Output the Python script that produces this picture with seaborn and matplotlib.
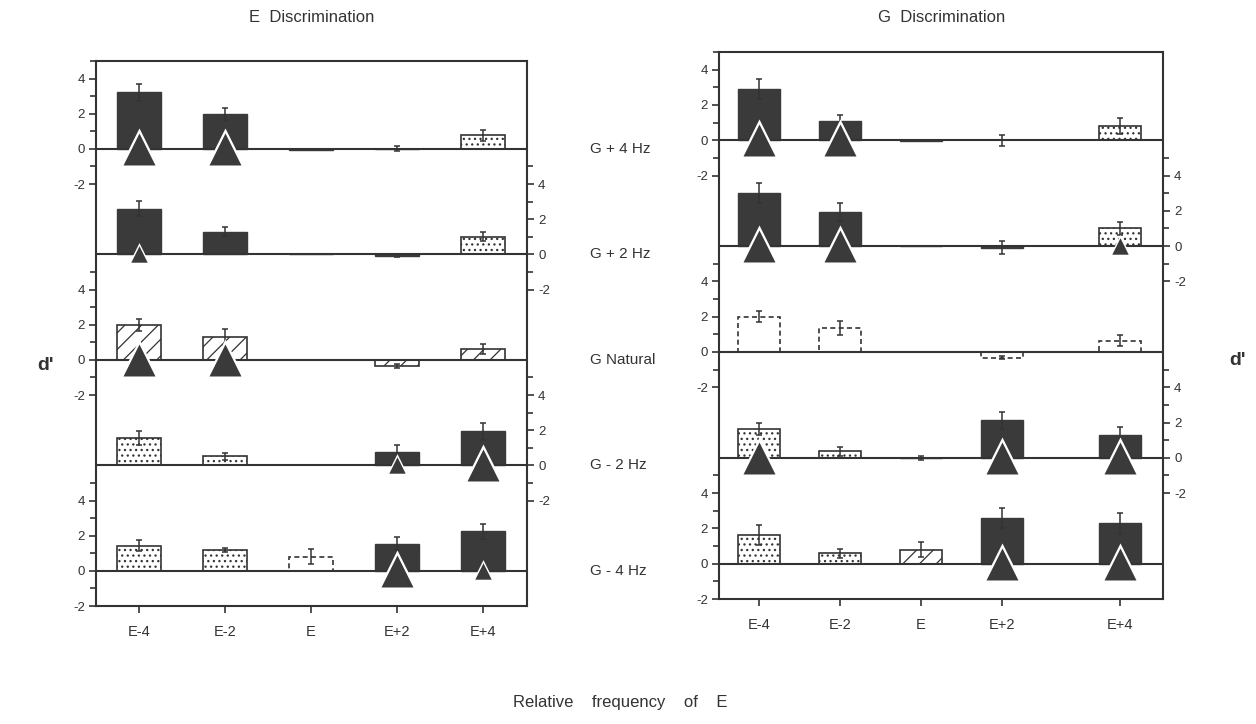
import numpy as np
import pandas as pd
import matplotlib.pyplot as plt
import seaborn as sns

# ---------------------------
# data
# ---------------------------
categories = ["E-4", "E-2", "E", "E+2", "E+4"]
conditions = ["G + 4 Hz", "G + 2 Hz", "G Natural", "G - 2 Hz", "G - 4 Hz"]

# E discrimination (left panel), one row per condition
e_dprime = [
    [3.23, 1.98, -0.05, 0.02, 0.77],
    [2.60, 1.30, 0.03, -0.08, 1.00],
    [1.98, 1.32, 0.00, -0.34, 0.60],
    [1.57, 0.51, 0.00, 0.75, 1.94],
    [1.43, 1.19, 0.81, 1.55, 2.25],
]
e_err = [
    [0.49, 0.32, 0.00, 0.15, 0.32],
    [0.42, 0.27, 0.00, 0.08, 0.26],
    [0.36, 0.45, 0.00, 0.10, 0.29],
    [0.41, 0.19, 0.00, 0.38, 0.48],
    [0.31, 0.13, 0.42, 0.35, 0.43],
]
e_fill = [
    ["solid", "solid", "solid", "solid", "dots"],
    ["solid", "solid", "solid", "solid", "dots"],
    ["hatch", "hatch", "none", "hatch", "hatch"],
    ["dots", "dots", "none", "solid", "solid"],
    ["dots", "dots", "dash", "solid", "solid"],
]
e_sig = [
    ["L", "L", "", "", ""],
    ["S", "", "", "", ""],
    ["L", "L", "", "", ""],
    ["", "", "", "S", "L"],
    ["", "", "", "L", "S"],
]

# G discrimination (right panel)
g_dprime = [
    [2.90, 1.10, -0.03, 0.00, 0.80],
    [3.00, 1.95, 0.03, -0.08, 1.00],
    [2.00, 1.35, 0.00, -0.32, 0.64],
    [1.65, 0.37, 0.00, 2.12, 1.27],
    [1.63, 0.58, 0.79, 2.57, 2.28],
]
g_err = [
    [0.56, 0.34, 0.00, 0.32, 0.45],
    [0.56, 0.52, 0.00, 0.35, 0.35],
    [0.30, 0.41, 0.00, 0.10, 0.30],
    [0.34, 0.25, 0.10, 0.50, 0.47],
    [0.56, 0.26, 0.43, 0.56, 0.60],
]
g_fill = [
    ["solid", "solid", "solid", "none", "dots"],
    ["solid", "solid", "solid", "solid", "dots"],
    ["dash", "dash", "none", "dash", "dash"],
    ["dots", "dots", "solid", "solid", "solid"],
    ["dots", "dots", "hatch", "solid", "solid"],
]
g_sig = [
    ["L", "L", "", "", ""],
    ["L", "L", "", "", "S"],
    ["", "", "", "", ""],
    ["L", "", "", "L", "L"],
    ["", "", "", "L", "L"],
]

# layout (pixels) -- the original G panel has uneven category spacing
W, H = 1256, 724
e_box = (96, 61, 527, 606)
g_box = (719, 52, 1163, 599)
e_xpos = [0, 1, 2, 3, 4]
g_xpos = [0, 1, 2, 3, 4.46]

INK = "#333333"
BAR = "#3a3a3a"

sns.set_theme(style="white")
plt.rcParams["font.family"] = ["Liberation Sans", "DejaVu Sans"]
plt.rcParams["hatch.linewidth"] = 0.9

fig = plt.figure(figsize=(W / 100, H / 100), dpi=100)
fig.patch.set_facecolor("white")


def px_axes(x0, y0, x1, y1):
    return fig.add_axes([x0 / W, 1 - y1 / H, (x1 - x0) / W, (y1 - y0) / H])


def style_bar(p, kind):
    if kind == "solid":
        p.set_facecolor(BAR)
        p.set_edgecolor(BAR)
        p.set_linewidth(1)
    elif kind == "dots":
        p.set_facecolor("white")
        p.set_edgecolor(INK)
        p.set_hatch("...")
        p.set_linewidth(1.2)
    elif kind == "hatch":
        p.set_facecolor("white")
        p.set_edgecolor(INK)
        p.set_hatch("//")
        p.set_linewidth(1.2)
    elif kind == "dash":
        p.set_facecolor("white")
        p.set_edgecolor(INK)
        p.set_linestyle((0, (3, 2)))
        p.set_linewidth(1.2)
    else:
        p.set_visible(False)


def draw_panel(box, xpos, xlim, bw, dprime, err, fill, sig):
    x0, y0, x1, y1 = box
    frame = px_axes(*box)
    frame.set_xlim(xlim)
    frame.set_ylim(0, 1)
    frame.set_xticks(xpos)
    frame.set_xticklabels(categories)
    frame.set_yticks([])
    for s in frame.spines.values():
        s.set_visible(True)
        s.set_color(INK)
        s.set_linewidth(1.5)
    frame.tick_params(axis="x", bottom=True, direction="out", length=5, width=1.2,
                      color=INK, labelcolor=INK, labelsize=10.5, pad=9)

    u = (y1 - y0) / 31
    for k in range(5):
        top = y0 + 6 * u * k
        ax = px_axes(x0, top, x1, top + 7 * u)
        ax.patch.set_alpha(0)
        df = pd.DataFrame({"pos": xpos, "dprime": dprime[k]})
        sns.barplot(data=df, x="pos", y="dprime", native_scale=True, width=bw,
                    color=BAR, saturation=1, errorbar=None, ax=ax)
        for p, kind in zip(ax.patches, fill[k]):
            style_bar(p, kind)

        ax.axhline(0, color=INK, lw=1.5, zorder=2)

        idx = [i for i in range(5) if err[k][i] > 0]
        ax.errorbar([xpos[i] for i in idx], [dprime[k][i] for i in idx],
                    yerr=[err[k][i] for i in idx], fmt="none", ecolor=INK,
                    elinewidth=1.1, capsize=2.5, capthick=1.1, zorder=3)

        # significance triangles: a white halo under a dark triangle
        for code, s_black, s_white in (("L", 530, 920), ("S", 140, 270)):
            j = [i for i in range(5) if sig[k][i] == code]
            if j:
                xs = [xpos[i] for i in j]
                ax.scatter(xs, [0] * len(j), marker="^", s=s_white, color="white",
                           linewidth=0, zorder=4, clip_on=False)
                ax.scatter(xs, [0] * len(j), marker="^", s=s_black, color=BAR,
                           linewidth=0, zorder=5, clip_on=False)

        ax.set_xlim(xlim)
        ax.set_ylim(-2, 5)
        ax.set_yticks([-2, 0, 2, 4])
        ax.set_yticklabels(["-2", "0", "2", "4"])
        ax.set_yticks([-1, 1, 3, 5], minor=True)
        if k % 2 == 0:
            ax.yaxis.tick_left()
        else:
            ax.yaxis.tick_right()
        ax.tick_params(axis="y", which="both", direction="out", width=1.2,
                       color=INK, labelcolor=INK, labelsize=9.5, pad=3)
        ax.tick_params(axis="y", which="major", length=5)
        ax.tick_params(axis="y", which="minor", length=4)
        ax.tick_params(axis="x", bottom=False, labelbottom=False)
        ax.set_xlabel("")
        ax.set_ylabel("")
        for s in ax.spines.values():
            s.set_visible(False)
    return u


u = draw_panel(e_box, e_xpos, (-0.5, 4.51), 0.52, e_dprime, e_err, e_fill, e_sig)
draw_panel(g_box, g_xpos, (-0.49, 4.99), 0.52, g_dprime, g_err, g_fill, g_sig)

fig.text(312 / W, 1 - 18 / H, "E  Discrimination", ha="center", va="center",
         fontsize=12, color=INK)
fig.text(942 / W, 1 - 18 / H, "G  Discrimination", ha="center", va="center",
         fontsize=12, color=INK)

# condition labels between the panels, level with the zero lines
for k, name in enumerate(conditions):
    zy = e_box[1] + 5 * u + 6 * u * k
    fig.text(590 / W, 1 - zy / H, name, ha="left", va="center",
             fontsize=11, color=INK)

fig.text(45 / W, 1 - 365 / H, "d'", ha="center", va="center",
         fontsize=14, fontweight="bold", color=INK)
fig.text(1237 / W, 1 - 360 / H, "d'", ha="center", va="center",
         fontsize=14, fontweight="bold", color=INK)
fig.text(620 / W, 1 - 703 / H, "Relative    frequency    of    E",
         ha="center", va="center", fontsize=12, color=INK)

fig.savefig("out.png", dpi=100, facecolor="white")
